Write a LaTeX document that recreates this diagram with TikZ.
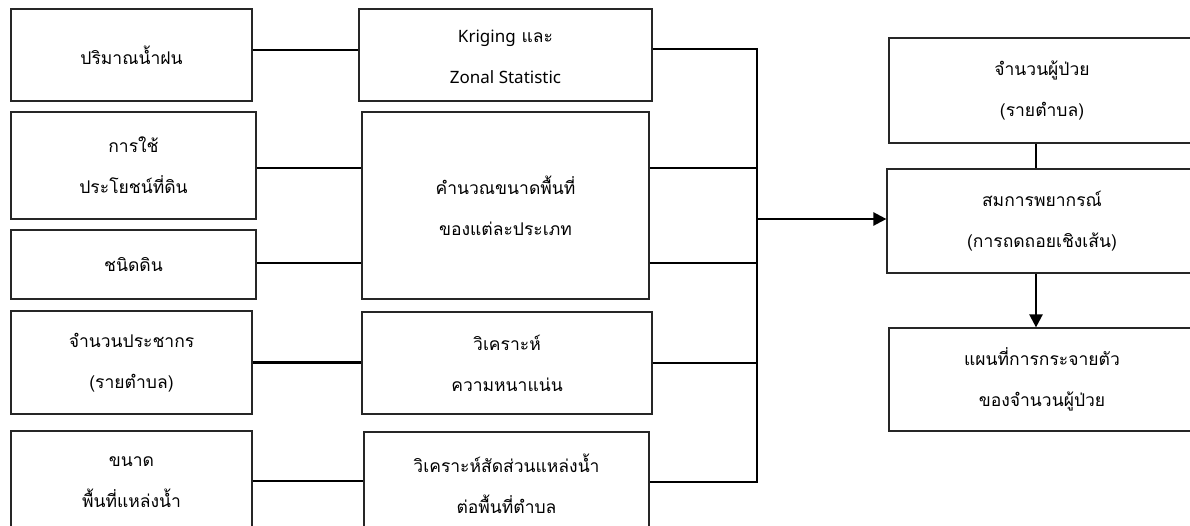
\documentclass[tikz,border=0pt]{standalone}
\usepackage{fontspec}
\newfontfamily\thaifont[Script=Thai]{Loma}
\newfontfamily\latinf{Noto Sans}
\usetikzlibrary{arrows.meta,calc}
\begin{document}
\begin{tikzpicture}[x=1pt,y=-1pt,
  box/.style={draw=black!85,line width=1.2pt,rectangle,inner sep=0pt,align=center,
    font=\thaifont\fontsize{17.5}{41}\selectfont},
  conn/.style={draw=black,line width=2.4pt},
  arr/.style={conn,-{Triangle[length=13pt,width=13pt]}}]
\useasboundingbox (0,0) rectangle (1190,525);
\clip (0,0) rectangle (1190,525);
\fill[white] (0,0) rectangle (1190,525);
% left column
\node[box,minimum width=241pt,minimum height=92pt] (L1) at (131.5,55) {ปริมาณน้ำฝน};
\node[box,minimum width=245pt,minimum height=107pt] (L2) at (133.5,165.5) {การใช้\\ประโยชน์ที่ดิน};
\node[box,minimum width=245pt,minimum height=69pt] (L3) at (133.5,264.5) {ชนิดดิน};
\node[box,minimum width=241pt,minimum height=103pt] (L4) at (131.5,362.5) {จำนวนประชากร\\(รายตำบล)};
\node[box,minimum width=241pt,minimum height=103pt] (L5) at (131.5,482.5) {ขนาด\\พื้นที่แหล่งน้ำ};
% middle column
\node[box,minimum width=293pt,minimum height=92pt] (M1) at (505.5,55) {\raisebox{-5pt}{\begin{tabular}{@{}c@{}}{\latinf\fontsize{17}{41}\selectfont Kriging} และ\\{\latinf\fontsize{17}{41}\selectfont Zonal Statistic}\end{tabular}}};
\node[box,minimum width=287pt,minimum height=187pt] (M2) at (505.5,205.5) {คำนวณขนาดพื้นที่\\ของแต่ละประเภท};
\node[box,minimum width=290pt,minimum height=102pt] (M3) at (507,363) {วิเคราะห์\\ความหนาแน่น};
\node[box,minimum width=285pt,minimum height=103pt] (M4) at (506.5,483.5) {วิเคราะห์สัดส่วนแหล่งน้ำ\\ต่อพื้นที่ตำบล};
% right column
\node[box,minimum width=306pt,minimum height=105pt] (R1) at (1042,90.5) {จำนวนผู้ป่วย\\(รายตำบล)};
\node[box,minimum width=310pt,minimum height=104pt] (R2) at (1042,221) {สมการพยากรณ์\\(การถดถอยเชิงเส้น)};
\node[box,minimum width=306pt,minimum height=103pt] (R3) at (1042,379.5) {แผนที่การกระจายตัว\\ของจำนวนผู้ป่วย};
% left to middle
\draw[conn] ([yshift=5pt]L1.east) -- ([yshift=5pt]L1.east -| M1.west);
\draw[conn] ([yshift=-2.5pt]L2.east) -- ([yshift=-2.5pt]L2.east -| M2.west);
\draw[conn] ([yshift=1.5pt]L3.east) -- ([yshift=1.5pt]L3.east -| M2.west);
\draw[conn] (L4.east) -- (L4.east -| M3.west);
\draw[conn] ([yshift=1.5pt]L5.east) -- ([yshift=1.5pt]L5.east -| M4.west);
% bus
\coordinate (bt) at (757,49);
\coordinate (bb) at (757,482);
\draw[conn] (M1.east |- bt) -- (bt) -- (bb) -- (M4.east |- bb);
\draw[conn] ([yshift=-2.5pt]L2.east -| M2.east) -- ([yshift=-2.5pt]L2.east -| bt);
\draw[conn] ([yshift=1.5pt]L3.east -| M2.east) -- ([yshift=1.5pt]L3.east -| bt);
\draw[conn] (M3.east) -- (M3.east -| bt);
\draw[arr] ([yshift=2pt]R2.west -| bt) -- ([yshift=2pt]R2.west);
% right column links
\draw[conn] ([xshift=-6pt]R1.south) -- ([xshift=-6pt]R1.south |- R2.north);
\draw[arr] ([xshift=-6pt]R2.south) -- ([xshift=-6pt]R2.south |- R3.north);
\end{tikzpicture}
\end{document}
